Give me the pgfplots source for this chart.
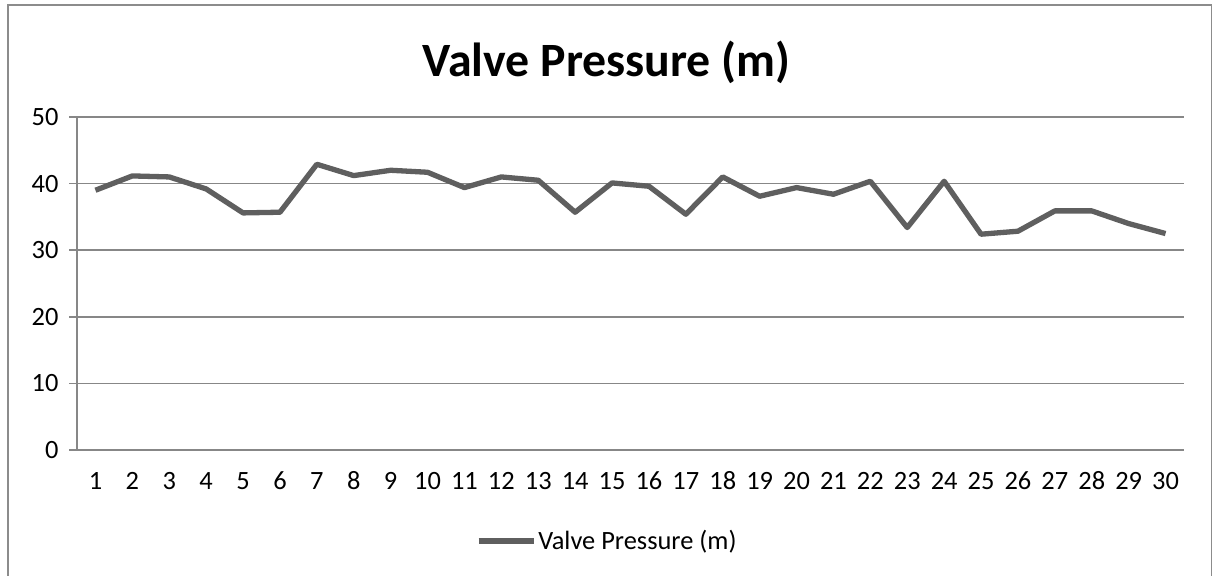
\documentclass[border=0pt]{standalone}
\usepackage{fontspec}
\setmainfont{Carlito}
\usepackage{pgfplots}
\pgfplotsset{compat=1.18}
\definecolor{gridgray}{HTML}{878787}
\definecolor{linegray}{HTML}{5F5F5F}
\definecolor{framegray}{HTML}{8C8C8C}
\begin{document}
\begin{tikzpicture}[x=1bp,y=1bp]
\useasboundingbox (0,0) rectangle (1213,576);
\draw[framegray, line width=1.5bp] (8,-2) -- (8,571) -- (1211.5,571) -- (1211.5,-2);
\node[anchor=base, font=\fontsize{48}{55}\selectfont\bfseries] at (606.5,499) {Valve Pressure (m)};
\begin{axis}[
  at={(77bp,126bp)}, anchor=south west,
  width=1107bp, height=333bp, scale only axis,
  xmin=0.5, xmax=30.5, ymin=0, ymax=50,
  axis x line*=bottom, axis y line*=left,
  axis line style={gridgray, line width=1.5bp, -},
  xtick={1,...,30}, ytick={0,10,...,50},
  ymajorgrids, grid style={gridgray, line width=1.5bp},
  tick align=outside,
  x tick style={draw=none},
  y tick style={gridgray, line width=1.5bp},
  major tick length=8bp,
  extra x ticks={0.5,1.5,...,30.5},
  extra x tick labels={},
  extra x tick style={grid=none, tick style={draw=gridgray, line width=1.5bp}, major tick length=7bp},
  /pgf/number format/assume math mode=true,
  tick label style={font=\fontsize{26.5}{30}\selectfont, text=black},
  yticklabel style={xshift=-7bp},
  xticklabel style={anchor=north, text height=17bp, text depth=0bp, yshift=-11bp},
  legend style={at={(axis description cs:0.479,-0.273)}, anchor=center, draw=none, fill=none,
    font=\fontsize{26.5}{30}\selectfont, inner sep=0pt, nodes={inner sep=2bp}},
  legend image code/.code={\draw[#1] (0bp,0bp) -- (55bp,0bp);},
]
\addplot[linegray, line width=5.3bp, line join=round, mark=none] coordinates {
(1,39.0) (2,41.15) (3,41.0) (4,39.2) (5,35.6) (6,35.7) (7,42.9) (8,41.2) (9,42.0) (10,41.7)
(11,39.4) (12,41.0) (13,40.5) (14,35.7) (15,40.1) (16,39.6) (17,35.4) (18,41.0) (19,38.1) (20,39.4)
(21,38.4) (22,40.35) (23,33.4) (24,40.35) (25,32.4) (26,32.85) (27,35.9) (28,35.9) (29,34.0) (30,32.5)
};
\addlegendentry{Valve Pressure (m)}
\end{axis}
\end{tikzpicture}
\end{document}
